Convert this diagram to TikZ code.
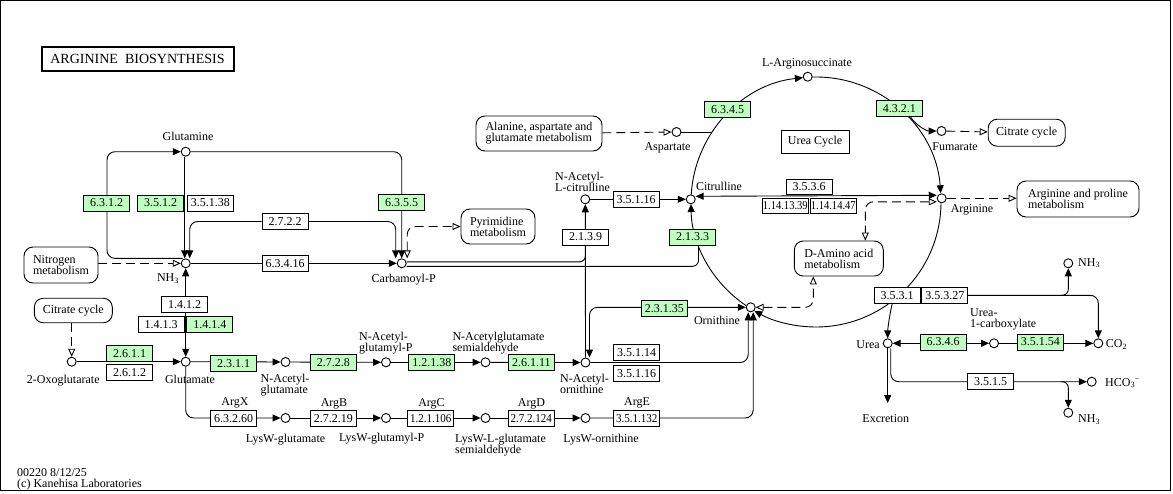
\documentclass[tikz,border=0pt]{standalone}
\usepackage{fontspec}
\usepackage{graphicx}
\setmainfont{Liberation Serif}
\usetikzlibrary{arrows.meta,calc}
\definecolor{ecgreen}{HTML}{BFFFBF}
\pgfdeclarelayer{bg}
\pgfsetlayers{bg,main}
\begin{document}
\begin{tikzpicture}[x=1pt,y=-1pt,
  every node/.style={font=\fontsize{12}{11}\selectfont,inner sep=0pt},
  ln/.style={line width=0.9pt},
  arr/.style={ln,-{Triangle[length=8pt,width=7pt]}},
  arrb/.style={ln,{Triangle[length=8pt,width=7pt]}-{Triangle[length=8pt,width=7pt]}},
  dsh/.style={ln,dash pattern=on 9pt off 5pt},
  darr/.style={dsh,-{Triangle[open,length=8pt,width=7pt,fill=white]}},
  darrb/.style={dsh,{Triangle[open,length=8pt,width=7pt,fill=white]}-{Triangle[open,length=8pt,width=7pt,fill=white]}},
  cpd/.style={circle,draw,line width=0.9pt,fill=white,minimum size=9pt},
  ec/.style={draw,line width=0.8pt,fill=white,minimum width=46pt,minimum height=16pt},
  ecg/.style={ec,fill=ecgreen},
  pw/.style={draw,line width=0.9pt,fill=white,rounded corners=9pt,align=left},
  lb/.style={anchor=base},
  ml/.style={align=left,anchor=north west},
]
\useasboundingbox (0,0) rectangle (1173,493);
\draw[line width=1pt] (0.5,0.5) rectangle (1170.5,490.5);
\node[draw,line width=2pt,minimum width=192pt,minimum height=24pt,font=\fontsize{14}{14}\selectfont] (title) at (137.5,58.5) {ARGININE\ \ BIOSYNTHESIS};

% compounds
\node[cpd] (gln) at (185.7,151.7) {};
\node[cpd] (nh3) at (185.7,263.3) {};
\node[cpd] (carbp) at (401.7,263.3) {};
\node[cpd] (oxo) at (71.7,361.7) {};
\node[cpd] (glu) at (185.7,361.7) {};
\node[cpd] (nag) at (285.5,362) {};
\node[cpd] (nagp) at (386,362.3) {};
\node[cpd] (nags) at (485.5,362.3) {};
\node[cpd] (nao) at (585.5,362.5) {};
\node[cpd] (lwg) at (285.5,418) {};
\node[cpd] (lwgp) at (386,418) {};
\node[cpd] (lwgs) at (485.5,418) {};
\node[cpd] (lwo) at (585.5,418) {};
\node[cpd] (orn) at (750.7,307.3) {};
\node[cpd] (nacit) at (585.3,199.3) {};
\node[cpd] (cit) at (690.7,199.3) {};
\node[cpd] (asp) at (676.5,132) {};
\node[cpd] (asuc) at (807.7,76.7) {};
\node[cpd] (fum) at (941.5,131) {};
\node[cpd] (arg) at (941.7,198.3) {};
\node[cpd] (urea) at (887.7,343.3) {};
\node[cpd] (ucx) at (994,343.3) {};
\node[cpd] (co2) at (1098.3,343.3) {};
\node[cpd] (hco3) at (1091.7,381.7) {};
\node[cpd] (nh3a) at (1068.3,263.3) {};
\node[cpd] (nh3b) at (1068.3,412.7) {};
\coordinate (exc) at (887.7,403);
\coordinate (uc) at (816,202);
\coordinate (aspj) at (712,132);

% enzymes
\node[ecg] (e6312) at (106.7,203) {6.3.1.2};
\node[ecg] (e3512) at (160.7,203) {3.5.1.2};
\node[ec] (e35138) at (210.3,203) {3.5.1.38};
\node[ec] (e2722) at (285,221.5) {2.7.2.2};
\node[ec] (e63416) at (285,263.5) {6.3.4.16};
\node[ecg] (e6355) at (401.5,202.7) {6.3.5.5};
\node[ec] (e1412) at (184.5,304.7) {1.4.1.2};
\node[ec] (e1413) at (161.2,324.8) {1.4.1.3};
\node[ecg] (e1414) at (209.8,324.8) {1.4.1.4};
\node[ecg] (e2611) at (129.5,353.8) {2.6.1.1};
\node[ec] (e2612) at (129.5,372.5) {2.6.1.2};
\node[ecg] (e2311) at (233.7,363.3) {2.3.1.1};
\node[ec] (e63260) at (233.7,418.3) {6.3.2.60};
\node[ecg] (e2728) at (333.3,362.8) {2.7.2.8};
\node[ecg] (e12138) at (431.8,362.8) {1.2.1.38};
\node[ecg] (e26111) at (531.3,362.8) {2.6.1.11};
\node[ec] (e27219) at (333.3,418.8) {2.7.2.19};
\node[ec] (e121106) at (430.8,418.8) {\scalebox{0.92}[1]{1.2.1.106}};
\node[ec] (e272124) at (531.3,418.8) {\scalebox{0.92}[1]{2.7.2.124}};
\node[ec] (e35114) at (636.7,352.5) {3.5.1.14};
\node[ec] (e35116a) at (636.7,373.8) {3.5.1.16};
\node[ec] (e351132) at (636.7,418.3) {\scalebox{0.92}[1]{3.5.1.132}};
\node[ecg] (e23135) at (664.3,308.7) {2.3.1.35};
\node[ec] (e2139) at (585.5,237) {2.1.3.9};
\node[ecg] (e2133) at (692.5,237) {2.1.3.3};
\node[ec] (e35116b) at (636,199.7) {3.5.1.16};
\node[ec,minimum height=15pt] (e3536) at (809.2,187) {3.5.3.6};
\node[ec,minimum height=15pt] (e1141339) at (785.3,205.5) {\scalebox{0.88}[1]{1.14.13.39}};
\node[ec,minimum height=15pt] (e1141447) at (833.3,205.5) {\scalebox{0.88}[1]{1.14.14.47}};
\node[ecg] (e6345) at (727.5,109.5) {6.3.4.5};
\node[ecg] (e4321) at (899.3,108.3) {4.3.2.1};
\node[ec] (e3531) at (897.2,295.3) {3.5.3.1};
\node[ec] (e35327) at (944.8,295.3) {3.5.3.27};
\node[ecg] (e6346) at (943,342) {6.3.4.6};
\node[ecg] (e35154) at (1040.3,342) {3.5.1.54};
\node[ec] (e3515) at (990.5,381.3) {3.5.1.5};
\node[draw,line width=0.9pt,minimum width=68pt,minimum height=23pt] (ucyc) at (815,141.5) {Urea Cycle};

% pathway maps
\node[pw,minimum width=74pt,minimum height=36pt] (nitro) at (61,265) {Nitrogen\\metabolism};
\node[pw,minimum width=78pt,minimum height=24.5pt] (tca1) at (73.3,310.5) {Citrate cycle};
\node[pw,minimum width=74pt,minimum height=35pt] (pyr) at (498,226.5) {Pyrimidine\\metabolism};
\node[pw,minimum width=126pt,minimum height=35pt] (ala) at (539,133.5) {Alanine, aspartate and\\glutamate metabolism};
\node[pw,minimum width=77pt,minimum height=27pt] (tca2) at (1026.7,132.7) {Citrate cycle};
\node[pw,minimum width=122pt,minimum height=36pt] (argpro) at (1078,199) {Arginine and proline\\metabolism};
\node[pw,minimum width=89pt,minimum height=35pt] (damino) at (838.8,258.5) {D-Amino acid\\metabolism};

% labels
\node[lb] (lgln) at (188,140) {Glutamine};
\node[lb] (lnh3) at (168,281.7) {NH\textsubscript{3}};
\node[lb] (lcarbp) at (403.7,282.5) {Carbamoyl-P};
\node[lb] (loxo) at (63.3,383) {2-Oxoglutarate};
\node[lb] (lglu) at (190,383) {Glutamate};
\node[ml] (lnag) at (260.5,374) {N-Acetyl-\\glutamate};
\node[ml] (lnagp) at (359,332) {N-Acetyl-\\glutamyl-P};
\node[ml] (lnags) at (452.3,332) {N-Acetylglutamate\\semialdehyde};
\node[ml] (lnao) at (560,374) {N-Acetyl-\\ornithine};
\node[ml] (lnacit) at (555,172) {N-Acetyl-\\L-citrulline};
\node[lb] (llwg) at (285.5,442.5) {LysW-glutamate};
\node[lb] (llwgp) at (381.7,441.7) {LysW-glutamyl-P};
\node[ml] (llwgs) at (455,433.5) {LysW-L-glutamate\\semialdehyde};
\node[lb] (llwo) at (601,442) {LysW-ornithine};
\node[lb] (lorn) at (717,324) {Ornithine};
\node[lb] (lcit) at (719,190.7) {Citrulline};
\node[lb] (lasp) at (667.5,150.5) {Aspartate};
\node[lb] (lasuc) at (807,66.7) {L-Arginosuccinate};
\node[lb] (lfum) at (955,150.5) {Fumarate};
\node[lb] (larg) at (972,212) {Arginine};
\node[lb] (lurea) at (868,348.3) {Urea};
\node[ml] (lucx) at (970,308.5) {Urea-\\1-carboxylate};
\node[anchor=base west] (lco2) at (1105.7,347.3) {CO\textsubscript{2}};
\node[anchor=base west] (lhco3) at (1105,386) {HCO\textsubscript{3}\textsuperscript{−}};
\node[anchor=base west] (lnh3a) at (1078,266) {NH\textsubscript{3}};
\node[anchor=base west] (lnh3b) at (1078,422.7) {NH\textsubscript{3}};
\node[lb] (lexc) at (885.8,422.7) {Excretion};
\node[lb] (largx) at (235,405) {ArgX};
\node[lb] (largb) at (334,406) {ArgB};
\node[lb] (largc) at (431.5,406) {ArgC};
\node[lb] (largd) at (531.5,406) {ArgD};
\node[lb] (large) at (637,405) {ArgE};
\node[anchor=base west] (lver) at (17,476) {00220 8/12/25};
\node[anchor=base west] (lcopy) at (17,487) {(c) Kanehisa Laboratories};

\begin{pgfonlayer}{bg}
\draw[arr,rounded corners=8pt] ([xshift=-3pt]nh3.north) -- ++(-75.7,0) |- (gln);
\draw[arr] ([xshift=-1pt]gln.south) -- ([xshift=-1pt]nh3.north);
\draw[arr,rounded corners=8pt] (e2722.west) -| ([xshift=4pt]nh3.north);
\draw[arr,rounded corners=8pt] (e2722.east) -| ([xshift=-6pt]carbp.north);
\draw[arr,rounded corners=8pt] (gln) -| (carbp.north);
\draw[darrb,rounded corners=8pt] ([xshift=5.5pt]carbp.north) |- (pyr.west);
\draw[darr] (nitro.east |- nh3) -- (nh3);
\draw[arr] (nh3) -- (carbp);
\draw[arrb] (glu) -- (nh3);
\draw[arr] (oxo) -- (glu);
\draw[darr] (tca1.south -| oxo) -- (oxo);
\draw[arr] (glu) -- (nag);
\draw[arr] (nag) -- (nagp);
\draw[arr] (nagp) -- (nags);
\draw[arr] (nags) -- (nao);
\draw[arr,rounded corners=8pt] (glu) |- (lwg);
\draw[arr] (lwg) -- (lwgp);
\draw[arr] (lwgp) -- (lwgs);
\draw[arr] (lwgs) -- (lwo);
\draw[arr,rounded corners=8pt] (lwo) -| ([xshift=2.5pt]orn.south);
\draw[arr,rounded corners=8pt] (nao) -| ([xshift=-2.5pt]orn.south);
\draw[arrb,rounded corners=8pt] ([xshift=4pt]nao.north) |- (orn);
\draw[arr] (nao) -- (nacit);
\draw[ln,rounded corners=6pt] ([yshift=1.5pt]carbp.east) -| (e2139.south);
\draw[ln,rounded corners=6pt] ([yshift=-3pt]carbp.east) -| ([xshift=6pt]e2133.south);
% urea cycle
\draw[arr] ($(uc)+(124:125)$) arc[start angle=124,end angle=179.1,radius=125];
\draw[arr] ($(uc)+(183.4:125)$) arc[start angle=183.4,end angle=264,radius=125];
\draw[arr] ($(uc)+(268.4:125)$) arc[start angle=268.4,end angle=356,radius=125];
\draw[arr] ($(uc)+(0.6:125)$) arc[start angle=0.6,end angle=119.6,radius=125];
\draw[ln] (asp) -- (aspj);
\draw[arr] ([xshift=11pt]e4321.south) .. controls +(6,9) and +(-10,0) .. (fum.west);
\draw[darr] (fum) -- (tca2);
\draw[arrb] ([yshift=3pt]cit.east) -- ([yshift=3pt]arg.west);
\draw[arr] (nacit) -- (cit);
\draw[darrb,rounded corners=8pt] ([yshift=-3.5pt]arg.west) -| ([xshift=26.5pt]damino.north);
\draw[darrb,rounded corners=8pt] (orn.east) -| ([xshift=-25.5pt]damino.south);
\draw[darr] (arg) -- (argpro.west |- arg);
\draw[darr] (ala) -- (asp);
% urea branch
\draw[arr] ([xshift=-5pt]e3531.south) .. controls +(-2,8) and +(0,-10) .. (urea.north);
\draw[arr,rounded corners=8pt] (e35327.east) -| (co2.north);
\draw[arr,rounded corners=6pt] ([xshift=-8pt]nh3a.south |- e35327.east) -| (nh3a.south);
\draw[arrb] (urea) -- (ucx);
\draw[arr] (ucx) -- (co2);
\draw[arr] (urea) -- (exc);
\draw[arr,rounded corners=8pt] ([xshift=3pt]urea.south) |- (hco3);
\draw[arr,rounded corners=6pt] ([xshift=-8pt]nh3b.north |- hco3) -| (nh3b.north);
\end{pgfonlayer}
\end{tikzpicture}
\end{document}
